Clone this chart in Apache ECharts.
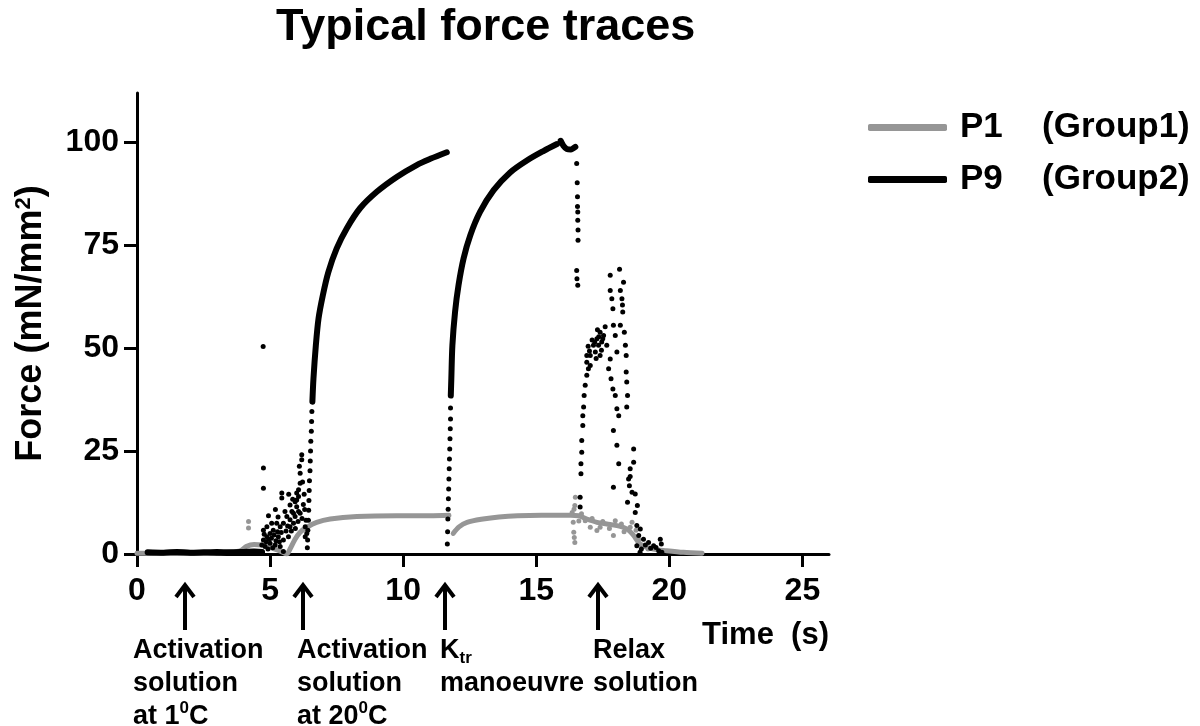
<!DOCTYPE html>
<html>
<head>
<meta charset="utf-8">
<script src="https://cdn.jsdelivr.net/npm/echarts@6/dist/echarts.min.js"></script>
<style>
  html, body { margin: 0; padding: 0; background: #fff; }
  #chart { width: 1200px; height: 726px; }
</style>
</head>
<body>
<div id="chart"></div>
<script>
// axis ranges and ticks
const xTicks = [0, 5, 10, 15, 20, 25];
const yTicks = [0, 25, 50, 75, 100];
const xMax = 26;
const yMax = 112;

// P1 (Group1) - grey trace, [time s, force mN/mm2]
const p1Early = [[0, 0.2], [0.5, 0.2], [1, 0.1], [1.5, 0.2], [2, 0.2], [2.5, 0.2], [3, 0.3], [3.5, 0.4], [3.9, 0.8],
  [4.1, 1.8], [4.4, 2.3], [4.7, 2.2], [5.0, 1.6], [5.3, 0.9], [5.55, 0.2], [5.63, 0], [5.75, 1.2], [5.94, 3.6],
  [6.13, 5.3], [6.38, 6.5], [6.75, 7.7], [7.26, 8.5], [8.26, 9.1], [9.76, 9.3], [11.0, 9.3], [11.72, 9.4]];
const p1Recovery = [[11.88, 5.0], [12.1, 6.6], [12.4, 7.7], [13, 8.5], [13.6, 9.0], [14.3, 9.3], [15.2, 9.4],
  [16.3, 9.4], [16.6, 9.3], [16.9, 8.5], [17.28, 7.7], [17.65, 7.3], [18.03, 6.9], [18.4, 6.1], [18.66, 4.5],
  [18.9, 2.4], [19.41, 1.2], [19.9, 0.8], [20.53, 0.4], [21.23, 0.2]];
const p1Dots = [[4.19, 7.9], [4.19, 6.3], [16.47, 13.8], [16.45, 11.8], [16.42, 10.9], [16.39, 7.7], [16.41, 5.3],
  [16.45, 2.8], [16.35, 10.1], [16.43, 4], [17.4, 6.5], [17.28, 5.7], [17.9, 4.5], [17.97, 8.1], [17.03, 6.5],
  [16.84, 8.1], [18.53, 6.5], [18.6, 7.7], [16.7, 9.8], [16.6, 8], [17.1, 8.6], [17.5, 7.9], [17.75, 6.2],
  [18.2, 7.3], [18.3, 5.4], [18.75, 5.8], [18.85, 3.5], [19.0, 1.8], [19.2, 1.2]];

// P9 (Group2) - black trace
const p9Baseline = [[0.4, 0.4], [1, 0.3], [1.5, 0.5], [2, 0.3], [2.5, 0.4], [3, 0.5], [3.5, 0.4], [4, 0.5], [4.4, 0.6], [4.7, 0.5]];
const p9FirstRise = [[6.59, 37], [6.63, 42.6], [6.72, 50.7], [6.82, 57.2], [6.98, 62.8], [7.19, 68.5], [7.5, 74.2],
  [7.88, 79.1], [8.38, 84], [9.01, 88], [9.76, 91.6], [10.51, 94.5], [11.02, 96.0], [11.64, 97.6]];
const p9SecondRise = [[11.79, 38.5], [11.81, 42.6], [11.85, 50.7], [11.95, 58.8], [12.08, 65.3], [12.27, 71.8],
  [12.52, 77.4], [12.89, 83.1], [13.4, 88.4], [14.02, 92.7], [14.65, 95.6], [15.27, 97.9], [15.78, 99.6]];
const p9Hook = [[15.92, 100.4], [16.02, 99.2], [16.15, 98.4], [16.3, 98.3], [16.47, 98.9]];
const p9OnsetDots = [[4.74, 50.4], [4.75, 20.9], [4.75, 16], [5.44, 14.8], [5.44, 13.6], [4.94, 9.3], [5.75, 11.9],
  [5.94, 12.7], [6.07, 15.6], [6.13, 17.2], [6.19, 24.1], [6.19, 22.9], [6.13, 19.6], [6.07, 14], [6.0, 11.5],
  [5.88, 9.9], [5.75, 8.3], [5.63, 9.1], [5.5, 7.5], [5.38, 6.6], [5.25, 7.5], [5.12, 5.8], [5.0, 5], [4.88, 4.2],
  [4.75, 3.4], [4.69, 2.2], [4.81, 1.8], [5.0, 2.6], [5.19, 2.2], [5.31, 4.2], [5.5, 3.4], [5.69, 4.2], [5.38, 1.8],
  [5.5, 0.6], [5.06, 7.5], [4.88, 6.6], [4.75, 5.8], [5.56, 10.3], [5.82, 10.3], [6.0, 13.1], [5.75, 6.6],
  [5.88, 7.5], [5.94, 9.1], [6.07, 10.3], [6.13, 9.9], [6.32, 6.6], [6.32, 4.2], [6.38, 5], [6.0, 14.8], [6.1, 21.3],
  [4.85, 3], [4.92, 1.2], [5.05, 3.8], [5.1, 1.5], [5.15, 4.6], [5.22, 3.2], [5.28, 5.4], [4.78, 4.8], [4.95, 3.6],
  [5.35, 3], [5.42, 5.2], [5.6, 5.6], [5.66, 6.8], [5.8, 5.6], [5.95, 6.2], [6.05, 7.9], [6.2, 8.6], [6.25, 12],
  [6.28, 14.5], [6.22, 17.5], [6.3, 10.8], [6.35, 8.2], [5.3, 9], [5.2, 10.8], [5.7, 14.5], [5.85, 13.3]];
const p9RiseDots = [[6.4, 1.5], [6.41, 3.4], [6.42, 5.8], [6.44, 8.2], [6.45, 10.6], [6.46, 13], [6.47, 15.4],
  [6.48, 17.8], [6.5, 20.2], [6.51, 22.6], [6.52, 25], [6.53, 27.4], [6.55, 29.8], [6.56, 32.2], [6.57, 34.6]];
const p9KtrDots = [[11.66, 2.4], [11.67, 5.4], [11.68, 8.5], [11.69, 10.9], [11.7, 13.4], [11.71, 15.8], [11.72, 18.2],
  [11.73, 20.7], [11.74, 23.1], [11.75, 25.5], [11.76, 28], [11.77, 30.4], [11.78, 32.8], [11.78, 35.5]];
const p9DropDots = [[16.52, 94.9], [16.54, 90.2], [16.55, 86.8], [16.55, 84.4], [16.56, 83.1], [16.56, 81.1],
  [16.57, 78.7], [16.57, 76.2], [16.52, 68.9], [16.53, 66.9], [16.56, 65.3]];
const p9RelaxDots = [[16.65, 11.4], [16.65, 13.8], [16.68, 19.5], [16.68, 21.9], [16.71, 24.7], [16.71, 27.6],
  [16.75, 31.2], [16.75, 33.6], [16.78, 35.7], [16.8, 38.5], [16.84, 41], [16.9, 43.4], [16.96, 45], [16.9, 46.6],
  [17.03, 48.2], [17.15, 50.7], [17.28, 52.3], [17.4, 53.9], [17.53, 53.1], [17.34, 50.7], [17.46, 51.5],
  [17.59, 55.2], [17.22, 49.1], [17.65, 50.7], [17.4, 48.2], [16.9, 48.2], [17.03, 45.8], [17.1, 52], [17.2, 51.5],
  [17.3, 54.5], [17.45, 49.5], [17.5, 52.3], [17.35, 52.8], [17.25, 47.5], [16.95, 50.5], [17.0, 49.3],
  [17.78, 67.7], [18.13, 69.2], [17.78, 64], [17.84, 62], [17.88, 59.6], [18.16, 64], [18.22, 62], [18.25, 58.8],
  [18.16, 55.6], [18.31, 53.9], [18.35, 50.7], [18.38, 48.2], [17.9, 55.6], [17.97, 53.1], [18.03, 49.1],
  [17.78, 47.4], [17.72, 45], [17.81, 42.6], [17.88, 40.1], [17.97, 38.5], [18.03, 35.3], [18.1, 33.6],
  [18.38, 44.2], [18.4, 41.8], [18.43, 38.5], [18.4, 35.7], [17.9, 30], [18.03, 26.4], [18.1, 21.9], [17.9, 16.2],
  [18.66, 25.5], [18.66, 22.3], [18.53, 20.7], [18.47, 18.2], [18.5, 16.6], [18.6, 15], [18.72, 14.6],
  [18.43, 12.6], [18.8, 11.8], [18.72, 10.1], [18.53, 18.8], [18.28, 66], [18.24, 60.5],
  [18.78, 6.9], [18.91, 6.1], [18.85, 4.5], [19.03, 3.6], [19.22, 2.8], [19.41, 2], [19.6, 0.8], [19.66, 3.6],
  [19.7, 2.4], [19.72, 0.4], [18.9, 0.4], [18.78, 2], [18.95, 1.2], [19.1, 2.2], [19.3, 1.4], [19.5, 1.6]];

// event markers under the time axis
const arrowTimes = [1.8, 6.24, 11.58, 17.33];

const FONT = "'Liberation Sans', Arial, Helvetica, sans-serif";
const GREY = '#969696';

const chart = echarts.init(document.getElementById('chart'), null, { renderer: 'canvas' });

function lineSeries(name, data, color) {
  return {
    name: name, type: 'line', data: data, showSymbol: false, smooth: 0.3,
    lineStyle: { color: color, width: color === GREY ? 5 : 6, cap: 'round' }, itemStyle: { color: color },
    z: color === GREY ? 2 : 3
  };
}
function dotSeries(name, data, color) {
  return {
    name: name, type: 'scatter', data: data, symbolSize: 5,
    itemStyle: { color: color, opacity: 1 }, z: color === GREY ? 2 : 3
  };
}

const option = {
  animation: false,
  backgroundColor: '#fff',
  textStyle: { fontFamily: FONT },
  title: {
    text: 'Typical force traces', left: 271, top: 0,
    textStyle: { fontSize: 45, fontWeight: 'bold', color: '#000', fontFamily: FONT }
  },
  legend: {
    orient: 'vertical', left: 863, top: 105, itemWidth: 79, itemHeight: 7, itemGap: 17,
    icon: 'roundRect', data: ['P1', 'P9'], selectedMode: false,
    formatter: function (n) { return n === 'P1' ? '{a|P1}{b|(Group1)}' : '{a|P9}{b|(Group2)}'; },
    textStyle: {
      color: '#000', padding: [0, 0, 0, 8],
      rich: {
        a: { width: 82, fontSize: 35, fontWeight: 'bold', color: '#000', fontFamily: FONT },
        b: { fontSize: 35, fontWeight: 'bold', color: '#000', fontFamily: FONT }
      }
    }
  },
  grid: { left: 137, right: 371, top: 93, bottom: 172, containLabel: false },
  xAxis: {
    type: 'value', min: 0, max: xMax,
    name: 'Time  (s)', nameLocation: 'end', nameGap: 0,
    nameTextStyle: { fontSize: 31, fontWeight: 'bold', color: '#000', align: 'right', verticalAlign: 'top', padding: [66, 0, 0, 0], fontFamily: FONT },
    axisLine: { show: true, onZero: false, lineStyle: { color: '#000', width: 3 } },
    axisTick: { show: true, length: 13, customValues: xTicks, lineStyle: { color: '#000', width: 3 } },
    axisLabel: { customValues: xTicks, fontSize: 32, fontWeight: 'bold', color: '#000', margin: 21, fontFamily: FONT },
    splitLine: { show: false }
  },
  yAxis: {
    type: 'value', min: 0, max: yMax,
    name: 'Force (mN/mm{s|2})', nameLocation: 'middle', nameRotate: 90, nameGap: 88,
    nameTextStyle: {
      fontSize: 36, fontWeight: 'bold', color: '#000', fontFamily: FONT,
      rich: { s: { fontSize: 22, fontWeight: 'bold', verticalAlign: 'top', color: '#000', fontFamily: FONT } }
    },
    axisLine: { show: true, onZero: false, lineStyle: { color: '#000', width: 3 } },
    axisTick: { show: true, length: 13, customValues: yTicks, lineStyle: { color: '#000', width: 3 } },
    axisLabel: { customValues: yTicks, fontSize: 32, fontWeight: 'bold', color: '#000', margin: 18, fontFamily: FONT },
    splitLine: { show: false }
  },
  series: [
    lineSeries('P1', p1Early, GREY),
    lineSeries('P1', p1Recovery, GREY),
    dotSeries('P1', p1Dots, GREY),
    lineSeries('P9', p9Baseline, '#000'),
    lineSeries('P9', p9FirstRise, '#000'),
    lineSeries('P9', p9SecondRise, '#000'),
    lineSeries('P9', p9Hook, '#000'),
    dotSeries('P9', p9OnsetDots, '#000'),
    dotSeries('P9', p9RiseDots, '#000'),
    dotSeries('P9', p9KtrDots, '#000'),
    dotSeries('P9', p9DropDots, '#000'),
    dotSeries('P9', p9RelaxDots, '#000')
  ]
};
chart.setOption(option);

// arrows and their notes, placed from the time axis
const noteTexts = [
  'Activation\nsolution\nat 1{sup|0}C',
  'Activation\nsolution\nat 20{sup|0}C',
  'K{sub|tr}\nmanoeuvre',
  'Relax\nsolution'
];
const noteShift = [-52, -6, -5, -5];
const textStyleBase = { fontSize: 27, fontWeight: 'bold', fontFamily: FONT, fill: '#000' };
const graphics = [];
arrowTimes.forEach(function (t, i) {
  const x = Math.round(chart.convertToPixel({ xAxisIndex: 0 }, t));
  graphics.push({
    type: 'line', shape: { x1: x, y1: 585, x2: x, y2: 630 },
    style: { stroke: '#000', lineWidth: 4 }
  });
  graphics.push({
    type: 'polyline', shape: { points: [[x - 9, 597], [x, 585], [x + 9, 597]] },
    style: { stroke: '#000', lineWidth: 4, fill: null }
  });
  graphics.push({
    type: 'text', x: x + noteShift[i], y: 634,
    style: Object.assign({}, textStyleBase, {
      text: noteTexts[i], lineHeight: 33, verticalAlign: 'top', align: 'left',
      rich: {
        sup: { fontSize: 17, fontWeight: 'bold', fontFamily: FONT, verticalAlign: 'top', lineHeight: 33, padding: [0, 0, 12, 0] },
        sub: { fontSize: 17, fontWeight: 'bold', fontFamily: FONT, verticalAlign: 'bottom', lineHeight: 33, padding: [12, 0, 0, 0] }
      }
    })
  });
});
chart.setOption({ graphic: graphics });
</script>
</body>
</html>
